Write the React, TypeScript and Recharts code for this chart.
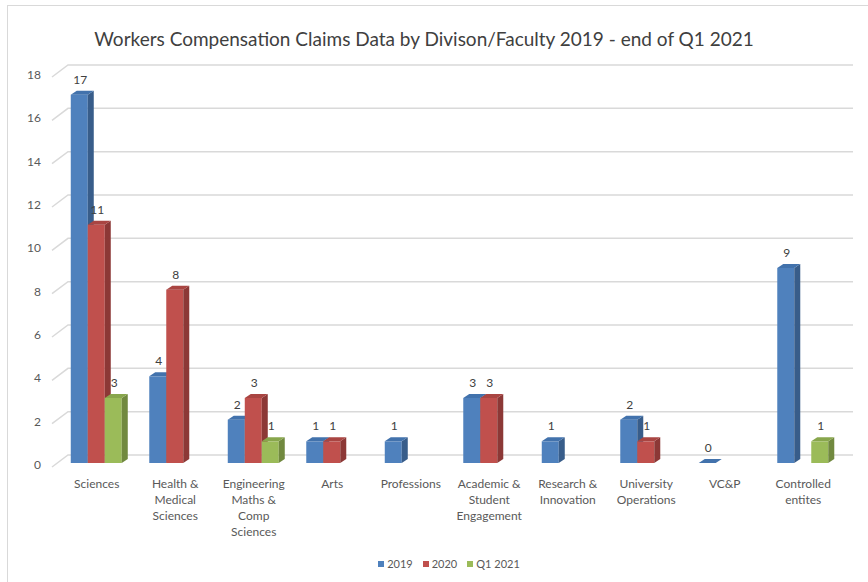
import React from 'react';
import { BarChart, Bar, XAxis, YAxis, CartesianGrid, Legend, LabelList } from 'recharts';

// categories (label lines) and series values
const divisions = [
  'Sciences',
  'Health &|Medical|Sciences',
  'Engineering|Maths &|Comp|Sciences',
  'Arts',
  'Professions',
  'Academic &|Student|Engagement',
  'Research &|Innovation',
  'University|Operations',
  'VC&P',
  'Controlled|entites',
];
const claims2019 = [17, 4, 2, 1, 1, 3, 1, 2, 0, 9];
const claims2020 = [11, 8, 3, 1, null, 3, null, 1, null, null];
const claimsQ12021 = [3, null, 1, null, null, null, null, null, null, 1];
const yTicks = [0, 2, 4, 6, 8, 10, 12, 14, 16, 18];

const data = divisions.map((name, i) => ({
  name,
  y2019: claims2019[i],
  y2020: claims2020[i],
  q12021: claimsQ12021[i],
}));

const series = [
  { key: 'y2019', label: '2019', front: '#4F81BD', top: '#4272AC', side: '#385D8A' },
  { key: 'y2020', label: '2020', front: '#C0504D', top: '#A94542', side: '#8C3836' },
  { key: 'q12021', label: 'Q1 2021', front: '#9BBB59', top: '#88A64C', side: '#71893F' },
];

const FONT = 'Lato, "Noto Sans", sans-serif';
const DX = 6;
const DY = 4;

// 3D-ish column: front face, top face and right side face
const makeShape = (s: any) => (props: any) => {
  const { x, y, width, height, payload } = props;
  if (payload[s.key] == null) return <g />;
  const w = width;
  const h = Math.max(height, 0);
  return (
    <g>
      {h > 0 && <rect x={x} y={y} width={w} height={h} fill={s.front} />}
      {h > 0 && (
        <polygon
          points={`${x + w},${y} ${x + w + DX},${y - DY} ${x + w + DX},${y + h - DY} ${x + w},${y + h}`}
          fill={s.side}
        />
      )}
      <polygon
        points={`${x},${y} ${x + DX},${y - DY} ${x + w + DX},${y - DY} ${x + w},${y}`}
        fill={s.top}
      />
    </g>
  );
};

const valueLabel = (props: any) => {
  const { x, y, width, value } = props;
  if (value == null) return null;
  return (
    <text x={x + width / 2 + 1} y={y - 11} textAnchor="middle" fontSize={12} fill="#404040" fontFamily={FONT}>
      {value}
    </text>
  );
};

// gridline drawn as floor/back wall line in perspective
const gridLine = (props: any) => {
  const { x1, x2, y1, key } = props;
  return (
    <polyline
      key={key}
      points={`${x1 - 5.5},${y1 + 4} ${x1 + 10.5},${y1 - 8} ${x2 + 10.5},${y1 - 8}`}
      fill="none"
      stroke="#D9D9D9"
      strokeWidth={1.5}
    />
  );
};

const YTick = (props: any) => {
  const { y, payload } = props;
  return (
    <text x={41} y={y + 6} textAnchor="end" fontSize={12} fill="#595959" fontFamily={FONT}>
      {payload.value}
    </text>
  );
};

const XTick = (props: any) => {
  const { x, payload } = props;
  const lines = String(payload.value).split('|');
  return (
    <text textAnchor="middle" fontSize={12} fill="#595959" fontFamily={FONT}>
      {lines.map((l, i) => (
        <tspan key={i} x={x} y={488 + i * 16}>
          {l}
        </tspan>
      ))}
    </text>
  );
};

const LegendBox = () => (
  <div style={{ display: 'flex', justifyContent: 'center', fontFamily: FONT, fontSize: 11, color: '#595959' }}>
    {series.map((s) => (
      <span key={s.key} style={{ display: 'inline-flex', alignItems: 'center', marginRight: 10 }}>
        <span style={{ width: 6, height: 6, background: s.front, display: 'inline-block', marginRight: 3 }} />
        {s.label}
      </span>
    ))}
  </div>
);

export default function App() {
  return (
    <div style={{ position: 'absolute', left: 0, top: 0, width: 868, height: 582, overflow: 'hidden', background: '#fff' }}>
      <div
        style={{
          position: 'absolute',
          left: 7,
          top: 5,
          width: 900,
          height: 600,
          borderLeft: '1.5px solid #D9D9D9',
          borderTop: '1.5px solid #D9D9D9',
        }}
      />
      <div
        style={{
          position: 'absolute',
          left: 0,
          top: 27,
          width: 848,
          textAlign: 'center',
          fontFamily: FONT,
          fontSize: 19,
          color: '#404040',
        }}
      >
        Workers Compensation Claims Data by Divison/Faculty 2019 - end of Q1 2021
      </div>
      <div style={{ position: 'absolute', left: 0, top: 0 }}>
        <BarChart
          width={868}
          height={582}
          data={data}
          margin={{ top: 73, right: 25.5, left: 0, bottom: 0 }}
          barCategoryGap="16.9%"
          barGap={0}
        >
          <CartesianGrid vertical={false} horizontal={gridLine} />
          <XAxis
            dataKey="name"
            axisLine={false}
            tickLine={false}
            height={119}
            interval={0}
            tick={<XTick />}
          />
          <YAxis
            domain={[0, 18]}
            ticks={yTicks}
            axisLine={false}
            tickLine={false}
            width={57.5}
            tick={<YTick />}
          />
          <Legend
            layout="horizontal"
            verticalAlign="middle"
            align="center"
            wrapperStyle={{ top: 557, left: 20, width: 868 }}
            content={<LegendBox />}
          />
          {series.map((s) => (
            <Bar key={s.key} dataKey={s.key} name={s.label} isAnimationActive={false} shape={makeShape(s)}>
              <LabelList dataKey={s.key} content={valueLabel} />
            </Bar>
          ))}
        </BarChart>
      </div>
    </div>
  );
}
